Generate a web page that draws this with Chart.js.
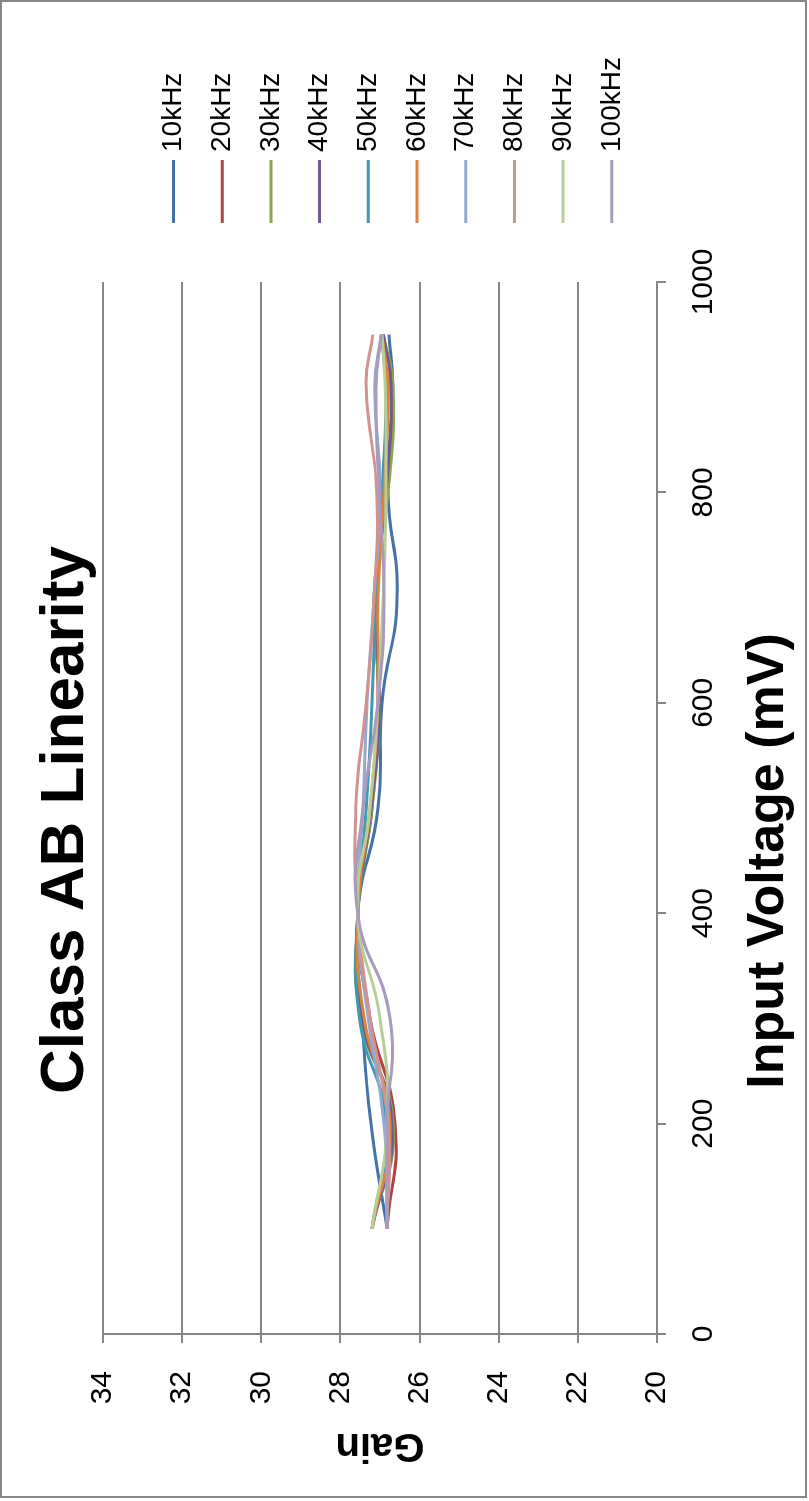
<!DOCTYPE html>
<html>
<head>
<meta charset="utf-8">
<title>Class AB Linearity</title>
<script src="https://cdn.jsdelivr.net/npm/chart.js@4.4.1/dist/chart.umd.min.js"></script>
<style>
    html, body { margin: 0; padding: 0; background: #fff; overflow: hidden; }
    body { width: 809px; height: 1501px; position: relative; }
    /* chart is drawn landscape and turned a quarter turn to the left */
    #wrap {
        position: absolute; left: 0; top: 0;
        width: 1501px; height: 809px;
        transform-origin: 0 0;
        transform: translate(0, 1501px) rotate(-90deg);
    }
</style>
</head>
<body>
<div id="wrap"><canvas id="gainChart" width="1501" height="809"></canvas></div>
<script>
// --- dados ---
const voltages = [100, 200, 300, 400, 500, 600, 700, 800, 900, 950];
const freqLabels = ['10kHz', '20kHz', '30kHz', '40kHz', '50kHz', '60kHz', '70kHz', '80kHz', '90kHz', '100kHz'];

const gain10k  = [26.82, 27.23, 27.45, 27.56, 27.05, 26.95, 26.57, 26.80, 26.68, 26.77];
const gain20k  = [26.82, 26.62, 27.25, 27.56, 27.20, 27.05, 27.10, 26.85, 26.72, 26.92];
const gain30k  = [27.20, 26.67, 27.48, 27.56, 27.20, 27.02, 27.15, 26.80, 26.67, 26.92];
const gain40k  = [27.20, 26.70, 27.45, 27.56, 27.22, 27.02, 27.10, 26.85, 26.72, 26.92];
const gain50k  = [27.20, 26.85, 27.52, 27.56, 27.35, 27.20, 27.10, 26.95, 26.85, 26.97];
const gain60k  = [27.20, 26.75, 27.40, 27.56, 27.25, 27.05, 27.05, 26.90, 26.80, 26.95];
const gain70k  = [26.82, 26.90, 27.30, 27.56, 27.43, 27.33, 27.15, 27.00, 27.13, 26.97];
const gain80k  = [26.82, 26.80, 27.25, 27.56, 27.61, 27.35, 27.15, 27.08, 27.35, 27.18];
const gain90k  = [27.20, 26.82, 27.00, 27.56, 27.25, 27.05, 26.92, 26.85, 26.87, 26.95];
const gain100k = [26.82, 26.82, 26.75, 27.56, 27.43, 27.05, 26.90, 27.02, 27.10, 26.97];

const voltTicks = [0, 200, 400, 600, 800, 1000];
const gainTicks = [20, 22, 24, 26, 28, 30, 32, 34];

const seriesColors = ['#4572A7', '#AA4643', '#89A54E', '#71588F', '#4198AF',
                      '#DB843D', '#93A9CF', '#D19392', '#B9CD96', '#A99BBD'];

const allGains = [gain10k, gain20k, gain30k, gain40k, gain50k,
                  gain60k, gain70k, gain80k, gain90k, gain100k];

const FONT = 'Liberation Sans';
const GRID = '#868686';

const datasets = allGains.map((g, i) => ({
    label: freqLabels[i],
    data: voltages.map((v, j) => ({ x: v, y: g[j] })),
    borderColor: seriesColors[i],
    borderWidth: 3,
    pointRadius: 0,
    tension: 0.5,
    fill: false,
    order: allGains.length - i   // later series on top, like Excel
}));

// title, x title, frame and legend drawn at fixed spots
const extraText = {
    id: 'extraText',
    afterDraw(chart) {
        const ctx = chart.ctx;
        ctx.save();
        ctx.strokeStyle = GRID;
        ctx.lineWidth = 2;
        ctx.strokeRect(4, 1, 1496, 805);

        ctx.fillStyle = '#000';
        ctx.textAlign = 'center';
        ctx.textBaseline = 'alphabetic';
        ctx.font = 'bold 62px "' + FONT + '"';
        ctx.fillText('Class AB Linearity', 681, 83);
        ctx.font = 'bold 52px "' + FONT + '"';
        ctx.fillText('Input Voltage (mV)', 640, 783);

        ctx.font = '28px "' + FONT + '"';
        ctx.textAlign = 'left';
        ctx.textBaseline = 'middle';
        chart.data.datasets.forEach((ds, i) => {
            const y = 173.5 + i * 48.7;
            ctx.strokeStyle = ds.borderColor;
            ctx.lineWidth = 3;
            ctx.beginPath();
            ctx.moveTo(1278, y);
            ctx.lineTo(1341, y);
            ctx.stroke();
            ctx.fillText(ds.label, 1349, y);
        });
        ctx.restore();
    }
};

new Chart(document.getElementById('gainChart').getContext('2d'), {
    type: 'line',
    data: { datasets: datasets },
    options: {
        responsive: false,
        animation: false,
        devicePixelRatio: 1,
        layout: { padding: { top: 103, right: 282, bottom: 0, left: 0 } },
        plugins: {
            legend: { display: false },
            tooltip: { enabled: false }
        },
        scales: {
            x: {
                type: 'linear',
                min: 0,
                max: 1000,
                afterBuildTicks: (s) => { s.ticks = voltTicks.map(v => ({ value: v })); },
                afterFit: (s) => { s.height = 152; },
                grid: { drawOnChartArea: false, drawTicks: true, tickLength: 9, color: GRID, lineWidth: 2 },
                border: { color: GRID, width: 2 },
                ticks: {
                    color: '#000',
                    font: { family: FONT, size: 30 },
                    padding: 20,
                    maxRotation: 0,
                    callback: (value) => String(value)
                }
            },
            y: {
                min: 20,
                max: 34,
                afterBuildTicks: (s) => { s.ticks = gainTicks.map(v => ({ value: v })); },
                afterFit: (s) => { s.width = 167; },
                grid: { color: GRID, lineWidth: 2, tickLength: 9 },
                border: { color: GRID, width: 2 },
                ticks: {
                    color: '#000',
                    font: { family: FONT, size: 30 },
                    padding: 28,
                    callback: (value) => String(value)
                },
                title: {
                    display: true,
                    text: 'Gain',
                    color: '#000',
                    font: { family: FONT, size: 40, weight: 'bold' },
                    padding: { top: 32, bottom: 0 }
                }
            }
        }
    },
    plugins: [extraText]
});
</script>
</body>
</html>
